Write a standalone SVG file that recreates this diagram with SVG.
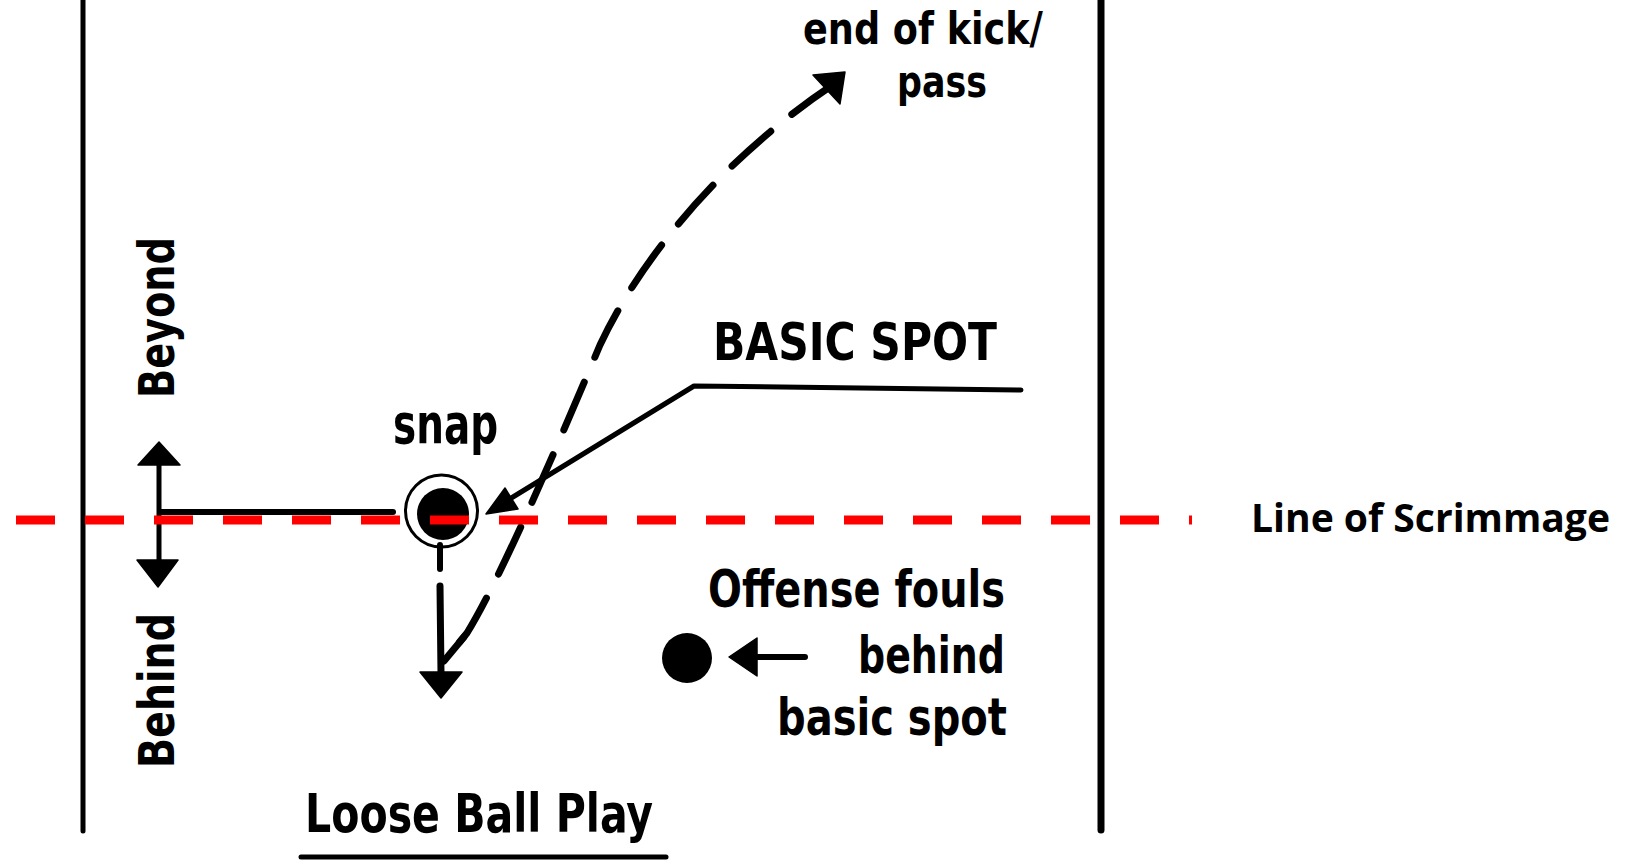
<svg xmlns="http://www.w3.org/2000/svg" width="1628" height="863" viewBox="0 0 1628 863">
  <style>
    .g { font-family: "Liberation Sans Narrow", "DejaVu Sans Condensed", "Liberation Sans", sans-serif; font-weight: bold; fill: #000; }
    .ln { stroke: #000; fill: none; stroke-linecap: round; stroke-linejoin: round; }
    .hd { fill: #000; stroke: #000; stroke-width: 1.5; stroke-linejoin: round; }
    .los { font-family: "Open Sans", "Noto Sans", "Liberation Sans", sans-serif; font-weight: 700; fill: #000; }
  </style>
  <rect width="1628" height="863" fill="#fff"/>

  <g id="sidelines">
    <line class="ln" x1="83" y1="0" x2="83" y2="831" stroke-width="5"/>
    <line class="ln" x1="1101" y1="0" x2="1101" y2="830" stroke-width="7"/>
  </g>

  <g id="connectors">
    <!-- behind/beyond double arrow and horizontal line to snap -->
    <line class="ln" x1="159" y1="462" x2="159" y2="563" stroke-width="5"/>
    <polygon class="hd" points="159,442 138,465 180,465"/>
    <polygon class="hd" points="158,587 137,560 178,560"/>
    <line class="ln" x1="160" y1="512" x2="393" y2="512" stroke-width="6"/>
    <!-- snap down arrow -->
    <line class="ln" x1="440" y1="545" x2="440" y2="569" stroke-width="6"/>
    <line class="ln" x1="440" y1="586" x2="441" y2="674" stroke-width="7"/>
    <polygon class="hd" points="420,672 462,672 441,698"/>
    <!-- kick / pass dashed arc -->
    <path class="ln" d="M 834 84 C 720 160, 640 260, 600 345 C 560 440, 500 580, 467 633 L 444 661" stroke-width="7" stroke-dasharray="52 27"/>
    <line class="ln" x1="464" y1="637" x2="444" y2="661" stroke-width="7"/>
    <polygon class="hd" points="813,75 845,72 840,104"/>
    <!-- basic spot leader -->
    <polyline class="ln" points="1021,390 694,386 508,500" stroke-width="5"/>
    <polygon class="hd" points="486,514 505,488 518,509"/>
    <!-- offense foul arrow -->
    <line class="ln" x1="805" y1="657" x2="752" y2="657" stroke-width="6"/>
    <polygon class="hd" points="729,657 757,638 757,676"/>
  </g>

  <g id="snap">
    <ellipse cx="441.5" cy="511" rx="36" ry="36" fill="none" stroke="#000" stroke-width="3"/>
    <circle cx="443" cy="514" r="26" fill="#000"/>
    <text class="g" x="393" y="443" font-size="56" textLength="105" lengthAdjust="spacingAndGlyphs">snap</text>
  </g>

  <g id="line-of-scrimmage">
    <line x1="16" y1="520" x2="1192" y2="520" stroke="#ff0000" stroke-width="9" stroke-dasharray="39 30"/>
    <text class="los" x="1251" y="532" font-size="40" textLength="359" lengthAdjust="spacingAndGlyphs">Line of Scrimmage</text>
  </g>

  <g id="beyond">
    <text class="g" transform="translate(174,398) rotate(-90)" font-size="50" textLength="161" lengthAdjust="spacingAndGlyphs">Beyond</text>
  </g>
  <g id="behind">
    <text class="g" transform="translate(174,768) rotate(-90)" font-size="50" textLength="155" lengthAdjust="spacingAndGlyphs">Behind</text>
  </g>

  <g id="end-of-kick">
    <text class="g" x="803" y="44" font-size="45" textLength="240" lengthAdjust="spacingAndGlyphs">end of kick/</text>
    <text class="g" x="897" y="97" font-size="45" textLength="90" lengthAdjust="spacingAndGlyphs">pass</text>
  </g>

  <g id="basic-spot">
    <text class="g" x="713" y="360" font-size="52" textLength="284" lengthAdjust="spacingAndGlyphs">BASIC SPOT</text>
  </g>

  <g id="offense-fouls">
    <circle cx="687" cy="658" r="25" fill="#000"/>
    <text class="g" x="708" y="607" font-size="51" textLength="297" lengthAdjust="spacingAndGlyphs">Offense fouls</text>
    <text class="g" x="858" y="673" font-size="51" textLength="147" lengthAdjust="spacingAndGlyphs">behind</text>
    <text class="g" x="777" y="735" font-size="51" textLength="230" lengthAdjust="spacingAndGlyphs">basic spot</text>
  </g>

  <g id="title">
    <text class="g" x="305" y="832" font-size="53" textLength="348" lengthAdjust="spacingAndGlyphs">Loose Ball Play</text>
    <line class="ln" x1="301" y1="857" x2="666" y2="857" stroke-width="5"/>
  </g>
</svg>
